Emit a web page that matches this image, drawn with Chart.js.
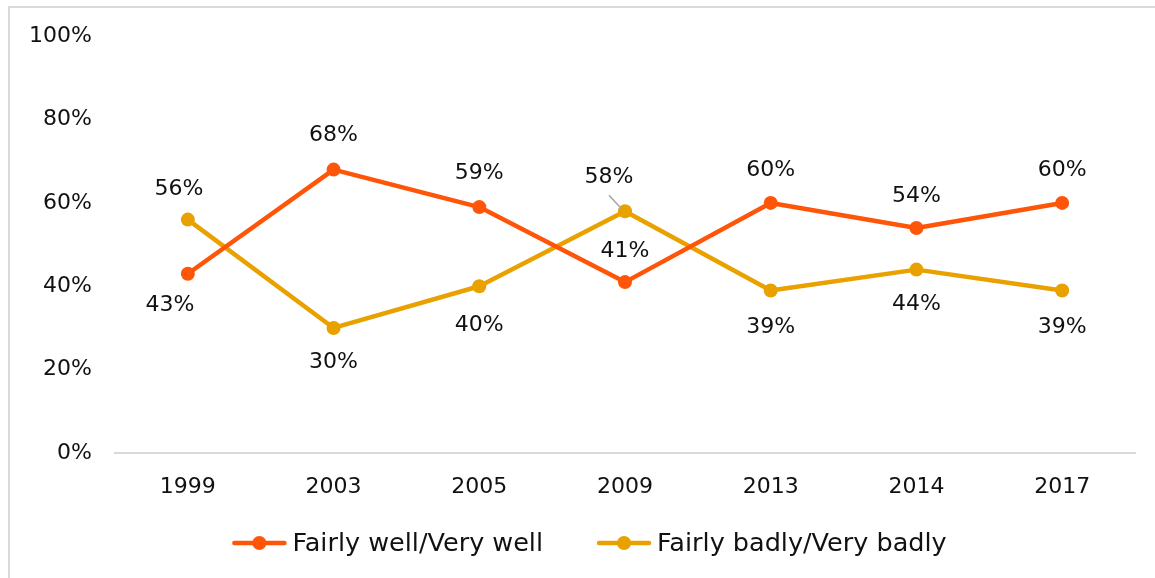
<!DOCTYPE html>
<html>
<head>
<meta charset="utf-8">
<script src="https://cdn.jsdelivr.net/npm/chart.js@4/dist/chart.umd.min.js"></script>
<style>
  html, body { margin: 0; padding: 0; background: #fff; overflow: hidden; }
  #wrap { position: absolute; left: 0; top: 0; width: 1155px; height: 578px; }
  #frame { position: absolute; left: 8px; top: 6px; width: 1200px; height: 600px;
           border-top: 2px solid #D9D9D9; border-left: 2px solid #D9D9D9; }
  canvas { position: absolute; left: 0; top: 0; }
</style>
</head>
<body>
<div id="wrap">
  <div id="frame"></div>
  <canvas id="chart" width="1155" height="578"></canvas>
</div>
<script>
// Survey years and answer shares (%)
const years = ['1999', '2003', '2005', '2009', '2013', '2014', '2017'];
const wellValues = [43, 68, 59, 41, 60, 54, 60];
const badlyValues = [56, 30, 40, 58, 39, 44, 39];
const yTickValues = [0, 20, 40, 60, 80, 100];
const seriesNames = ['Fairly well/Very well', 'Fairly badly/Very badly'];

const ORANGE = '#FF5508';
const GOLD = '#E9A100';
const TEXT = '#111111';
const FONT = '"DejaVu Sans", sans-serif';

// Value label offsets (dx, dy) from each point, per series
const labelOffsets = [
  [[-18, 32], [0, -34], [0, -34], [0, -31], [0, -33], [0, -32], [0, -33]],
  [[-9, -30], [0, 34], [0, 39], [-16, -34], [0, 37], [0, 35], [0, 37]]
];
// Labels that were pulled away from their point get a leader line
const leaderLines = [[], [3]];

const valueLabels = {
  id: 'valueLabels',
  afterDatasetsDraw(chart) {
    const ctx = chart.ctx;
    ctx.save();
    ctx.font = '22px ' + FONT;
    ctx.fillStyle = TEXT;
    ctx.textAlign = 'center';
    ctx.textBaseline = 'middle';
    chart.data.datasets.forEach((ds, di) => {
      const meta = chart.getDatasetMeta(di);
      meta.data.forEach((pt, i) => {
        const [dx, dy] = labelOffsets[di][i];
        const lx = pt.x + dx, ly = pt.y + dy;
        if (leaderLines[di].includes(i)) {
          ctx.strokeStyle = '#A6A6A6';
          ctx.lineWidth = 1.5;
          ctx.beginPath();
          ctx.moveTo(lx, ly + 18);
          ctx.lineTo(pt.x - 4, pt.y - 3);
          ctx.stroke();
        }
        ctx.fillText(ds.data[i] + '%', lx, ly);
      });
    });
    ctx.restore();
  }
};

// Legend: line-with-dot markers followed by series names
const lineLegend = {
  id: 'lineLegend',
  afterDraw(chart) {
    const ctx = chart.ctx;
    ctx.save();
    ctx.font = '25.5px ' + FONT;
    ctx.textBaseline = 'middle';
    ctx.textAlign = 'left';
    const markW = 54, gapText = 6, gapItem = 54;
    const items = chart.data.datasets.map(ds => ({
      label: ds.label, color: ds.borderColor, w: ctx.measureText(ds.label).width
    }));
    const total = items.reduce((s, it) => s + markW + gapText + it.w, 0) + gapItem * (items.length - 1);
    let x = chart.width / 2 + 12 - total / 2;
    const y = chart.chartArea.bottom + 90;
    items.forEach(it => {
      ctx.strokeStyle = it.color;
      ctx.fillStyle = it.color;
      ctx.lineWidth = 4.5;
      ctx.lineCap = 'round';
      ctx.beginPath();
      ctx.moveTo(x + 2, y);
      ctx.lineTo(x + markW - 2, y);
      ctx.stroke();
      ctx.beginPath();
      ctx.arc(x + markW / 2, y, 7, 0, Math.PI * 2);
      ctx.fill();
      ctx.fillStyle = TEXT;
      ctx.fillText(it.label, x + markW + gapText, y + 1);
      x += markW + gapText + it.w + gapItem;
    });
    ctx.restore();
  }
};

new Chart(document.getElementById('chart'), {
  type: 'line',
  data: {
    labels: years,
    datasets: [
      { label: seriesNames[0], data: wellValues, borderColor: ORANGE, backgroundColor: ORANGE },
      { label: seriesNames[1], data: badlyValues, borderColor: GOLD, backgroundColor: GOLD }
    ]
  },
  options: {
    responsive: false,
    animation: false,
    devicePixelRatio: 1,
    layout: { padding: { left: 0, right: 20, top: 36, bottom: 65 } },
    elements: {
      line: { borderWidth: 4.5, tension: 0, borderCapStyle: 'round', borderJoinStyle: 'round' },
      point: { radius: 7, hoverRadius: 7, borderWidth: 0 }
    },
    plugins: {
      legend: { display: false },
      tooltip: { enabled: false }
    },
    scales: {
      x: {
        offset: true,
        grid: { display: false, drawTicks: false },
        border: { display: true, color: '#D9D9D9', width: 2 },
        ticks: { padding: 21, color: TEXT, font: { family: FONT, size: 22 } },
        afterFit(scale) { scale.height = 60; }
      },
      y: {
        min: 0,
        max: 100,
        grid: { display: false, drawTicks: false },
        border: { display: false },
        afterBuildTicks(scale) { scale.ticks = yTickValues.map(v => ({ value: v })); },
        ticks: {
          padding: 23,
          color: TEXT,
          font: { family: FONT, size: 22 },
          callback: v => v + '%'
        },
        afterFit(scale) { scale.width = 115; }
      }
    }
  },
  plugins: [valueLabels, lineLegend]
});
</script>
</body>
</html>
